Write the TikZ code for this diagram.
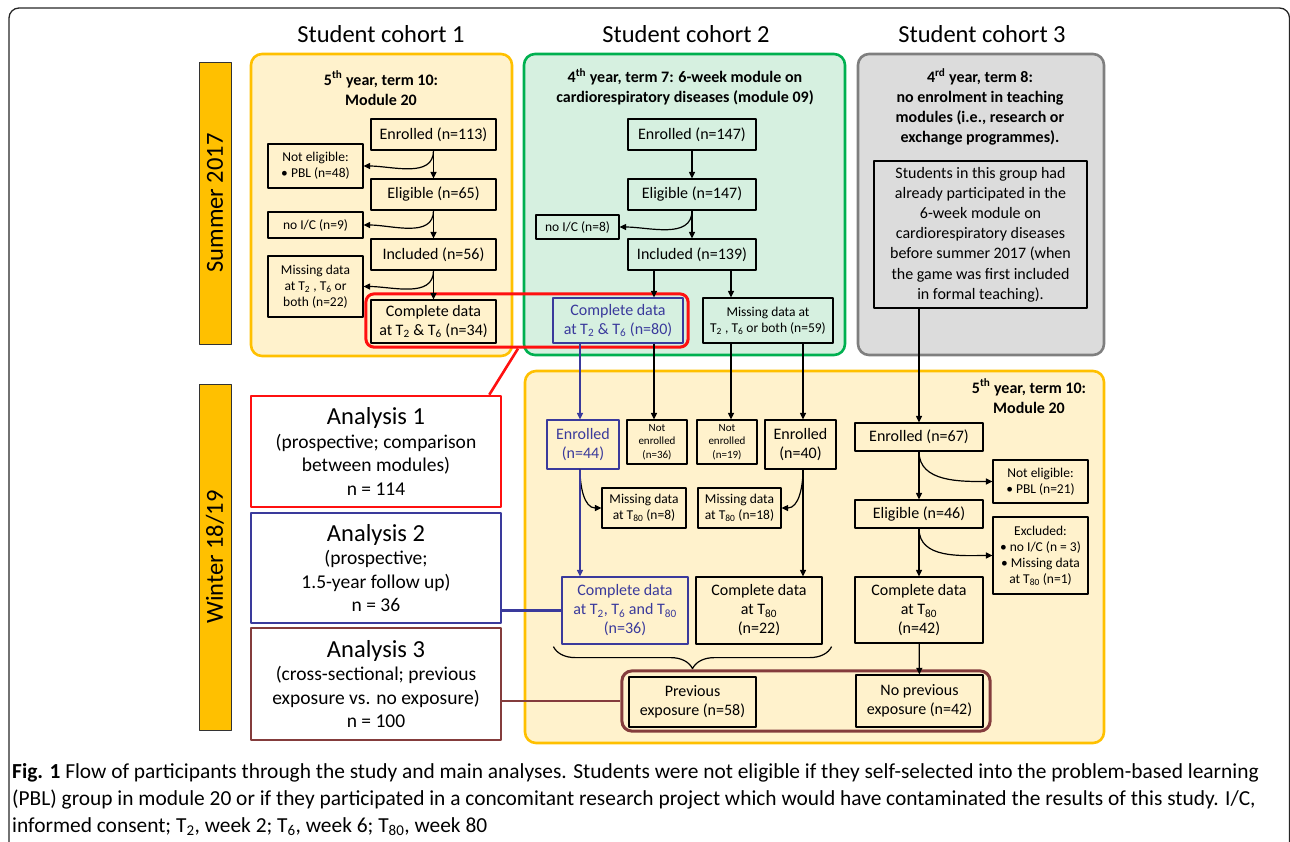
\documentclass[tikz,border=0pt]{standalone}
\usepackage{fontspec}
\setmainfont{Carlito}
\usetikzlibrary{arrows.meta,fit,decorations.pathreplacing,calc}
\definecolor{barorange}{HTML}{FFC000}
\definecolor{yelfill}{HTML}{FFF2CC}
\definecolor{grnline}{HTML}{00B050}
\definecolor{grnfill}{HTML}{D6F0E0}
\definecolor{gryline}{HTML}{7F7F7F}
\definecolor{gryfill}{HTML}{DCDCDC}
\definecolor{anblue}{HTML}{3A3A9C}
\definecolor{anbrown}{HTML}{843C3C}
\definecolor{anred}{HTML}{FF1010}
\begin{document}
\begin{tikzpicture}[x=1pt, y=-1pt, line join=round, >={Triangle[length=6.5pt,width=6pt]},
  box/.style={draw, line width=1.2pt, align=center, inner sep=0pt, font=\fontsize{16}{19}\selectfont},
  sbox/.style={box, font=\fontsize{13.5}{16}\selectfont},
  tbox/.style={box, font=\fontsize{11}{13.5}\selectfont},
  bluebox/.style={box, draw=anblue, text=anblue},
  region/.style={line width=2.6pt, rounded corners=11pt},
  head/.style={font=\fontsize{24.5}{29}\selectfont},
  title/.style={align=center, font=\bfseries\fontsize{16}{20}\selectfont},
  bar/.style={draw=black!80, line width=1pt, fill=barorange, inner sep=0pt, font=\fontsize{24.5}{29}\selectfont},
  ana/.style={draw, fill=white, line width=2.6pt, align=center, inner sep=0pt, minimum width=250pt, font=\fontsize{19.5}{23.5}\selectfont},
  big/.style={font=\fontsize{24.5}{29}\selectfont}]
\useasboundingbox (0,0) rectangle (1290,841);
\draw[line width=1.3pt, black!85, rounded corners=10pt] (9,8) rectangle (1289.5,852);

\foreach \i/\x in {1/381,2/686,3/982}
  \node[head] (hd\i) at (\x,34) {Student cohort \i};

\draw[region, draw=barorange, fill=yelfill] (251,54) rectangle (512,356);
\draw[region, draw=grnline, fill=grnfill] (524,54) rectangle (845,355);
\draw[region, draw=gryline, fill=gryfill] (858,54) rectangle (1104,355);
\draw[region, draw=barorange, fill=yelfill] (525,371) rectangle (1104,743);

\node[bar, rotate=90, minimum width=282pt, minimum height=32pt] (sumbar) at (215,203) {Summer 2017};
\node[bar, rotate=90, minimum width=346pt, minimum height=32pt] (winbar) at (215,557) {Winter 18/19};

% cohort 1
\node[title] (tiA) at (381,88) {5\textsuperscript{th} year, term 10:\\Module 20};
\node[box, minimum width=125pt, minimum height=31pt] (enrA) at (433.5,134.5) {Enrolled (n=113)};
\node[sbox, minimum width=95pt, minimum height=44pt] (nelA) at (315.5,166) {Not eligible:\\• PBL (n=48)};
\node[box, minimum width=125pt, minimum height=31pt] (eliA) at (433.5,194.5) {Eligible (n=65)};
\node[sbox, minimum width=95pt, minimum height=26pt] (nicA) at (315.5,225) {no I/C (n=9)};
\node[box, minimum width=125pt, minimum height=31pt] (incA) at (433.5,254.5) {Included (n=56)};
\node[sbox, minimum width=95pt, minimum height=61pt] (misA) at (315.5,286.5) {Missing data\\at T\textsubscript{2} , T\textsubscript{6} or\\both (n=22)};
\node[box, minimum width=125pt, minimum height=43pt] (comA) at (433.5,321.5) {Complete data\\at T\textsubscript{2} \& T\textsubscript{6} (n=34)};

% cohort 2
\node[title] (tiB) at (685,87) {4\textsuperscript{th} year, term 7: 6-week module on\\cardiorespiratory diseases (module 09)};
\node[box, minimum width=128pt, minimum height=31pt] (enrB) at (692,134.5) {Enrolled (n=147)};
\node[box, minimum width=128pt, minimum height=31pt] (eliB) at (692,194.5) {Eligible (n=147)};
\node[sbox, minimum width=83pt, minimum height=24pt] (nicB) at (577.5,227) {no I/C (n=8)};
\node[box, minimum width=128pt, minimum height=31pt] (incB) at (692,254.5) {Included (n=139)};
\node[bluebox, minimum width=130pt, minimum height=45pt] (comB) at (618,320.5) {Complete data\\at T\textsubscript{2} \& T\textsubscript{6} (n=80)};
\node[sbox, minimum width=130pt, minimum height=45pt] (misB) at (768,320.5) {Missing data at\\T\textsubscript{2} , T\textsubscript{6} or both (n=59)};

% cohort 3
\node[title] (tiC) at (980,107) {4\textsuperscript{rd} year, term 8:\\no enrolment in teaching\\modules (i.e., research or\\exchange programmes).};
\node[box, minimum width=213pt, minimum height=147pt, font=\fontsize{16}{20.2}\selectfont] (stuC) at (980.5,234.5) {Students in this group had\\already participated in the\\6-week module on\\cardiorespiratory diseases\\before summer 2017 (when\\the game was first included\\in formal teaching).};

% winter 18/19
\node[title] (tiD) at (1029,396) {5\textsuperscript{th} year, term 10:\\Module 20};
\node[bluebox, minimum width=72pt, minimum height=49pt] (enrD) at (583,444.5) {Enrolled\\(n=44)};
\node[tbox, minimum width=60pt, minimum height=44pt] (nenD) at (657,442) {Not\\enrolled\\(n=36)};
\node[tbox, minimum width=60pt, minimum height=44pt] (nenE) at (727,442) {Not\\enrolled\\(n=19)};
\node[box, minimum width=71pt, minimum height=49pt] (enrE) at (800.5,444.5) {Enrolled\\(n=40)};
\node[sbox, minimum width=84pt, minimum height=40pt] (misD) at (644,508) {Missing data\\at T\textsubscript{80} (n=8)};
\node[sbox, minimum width=83pt, minimum height=40pt] (misE) at (739.5,508) {Missing data\\at T\textsubscript{80} (n=18)};
\node[bluebox, minimum width=126pt, minimum height=67pt] (comD) at (625,610.5) {Complete data\\at T\textsubscript{2}, T\textsubscript{6} and T\textsubscript{80}\\(n=36)};
\node[box, minimum width=126pt, minimum height=67pt] (comE) at (759,610.5) {Complete data\\at T\textsubscript{80}\\(n=22)};
\node[box, minimum width=127pt, minimum height=50pt] (preD) at (692.5,702) {Previous\\exposure (n=58)};

\node[box, minimum width=128pt, minimum height=28pt] (enrF) at (919,437) {Enrolled (n=67)};
\node[sbox, minimum width=95pt, minimum height=43pt] (nelF) at (1040.5,481.5) {Not eligible:\\• PBL (n=21)};
\node[box, minimum width=128pt, minimum height=28pt] (eliF) at (919,514) {Eligible (n=46)};
\node[sbox, minimum width=95pt, minimum height=77pt] (excF) at (1040.5,555.5) {Excluded:\\• no I/C (n = 3)\\• Missing data\\at T\textsubscript{80} (n=1)};
\node[box, minimum width=128pt, minimum height=66pt] (comF) at (919,610) {Complete data\\at T\textsubscript{80}\\(n=42)};
\node[box, minimum width=127pt, minimum height=52pt] (npeF) at (919.5,701) {No previous\\exposure (n=42)};

% analyses
\node[ana, draw=anred, minimum height=111pt] (anaA) at (376,451.5) {{\fontsize{24.5}{29}\selectfont Analysis 1}\\(prospective; comparison\\between modules)\\n = 114};
\node[ana, draw=anblue, minimum height=110pt] (anaB) at (376,568) {{\fontsize{24.5}{29}\selectfont Analysis 2}\\(prospective;\\1.5-year follow up)\\n = 36};
\node[ana, draw=anbrown, minimum height=112pt] (anaC) at (376,684) {{\fontsize{24.5}{29}\selectfont Analysis 3}\\(cross-sectional; previous\\exposure vs. no exposure)\\n = 100};

\node[fit=(comA)(comB), draw=anred, line width=3pt, rounded corners=8pt, inner xsep=4.5pt, inner ysep=3.5pt] (grpA) {};
\node[fit=(preD)(npeF), draw=anbrown, line width=3pt, rounded corners=10pt, inner xsep=6.5pt, inner ysep=3.5pt] (grpC) {};

% arrows
\coordinate (xb1) at (654,0);
\coordinate (xb2) at (731,0);
\coordinate (xb3) at (803,0);
\coordinate (xd) at (580,0);
\begin{scope}[line width=1.2pt]
\draw[->] (enrA) -- (eliA);
\draw[->] (enrA.south) to[out=-90,in=0] (nelA.east);
\draw[->] (eliA) -- (incA);
\draw[->] (eliA.south) to[out=-90,in=0] (nicA.east);
\draw[->] (incA) -- (comA);
\draw[->] (incA.south) to[out=-90,in=0] (misA.east);

\draw[->] (enrB) -- (eliB);
\draw[->] (eliB) -- (incB);
\draw[->] (eliB.south) to[out=-90,in=0] (nicB.east);
\draw[->] (incB.south -| xb1) -- (comB.north -| xb1);
\draw[->] (incB.south -| xb2) -- (misB.north -| xb2);

\draw[->, anblue] (comB.south -| xd) -- (enrD.north -| xd);
\draw[->] (comB.south -| xb1) -- (nenD.north -| xb1);
\draw[->] (misB.south -| xb2) -- (nenE.north -| xb2);
\draw[->] (misB.south -| xb3) -- (enrE.north -| xb3);
\draw[->] (enrD.south -| xd) to[out=-90,in=180] (misD.west);
\draw[->, anblue] (enrD.south -| xd) -- (comD.north -| xd);
\draw[->] (enrE.south -| xb3) to[out=-90,in=0] (misE.east);
\draw[->] (enrE.south -| xb3) -- (comE.north -| xb3);

\draw[->] (stuC.south -| enrF.north) -- (enrF.north);
\draw[->] (enrF) -- (eliF);
\draw[->] (enrF.south) to[out=-90,in=180] (nelF.west);
\draw[->] (eliF) -- (comF);
\draw[->] (eliF.south) to[out=-90,in=180] (excF.west);
\draw[->] (comF) -- (npeF);

\draw[decorate, decoration={brace, mirror, amplitude=22pt}] ($(comD.south west)+(-8,2)$) -- ($(comE.south east)+(9,2)$);
\end{scope}

\draw[anred, line width=2.6pt] ([xshift=-9pt]grpA.south) -- ([xshift=-13pt]anaA.north east);
\draw[anblue, line width=2.6pt] (comD.west) -- (comD.west -| anaB.east);
\draw[anbrown, line width=2.6pt] (grpC.west) -- (grpC.west -| anaC.east);

\node[anchor=north west, inner sep=0pt, align=left, font=\fontsize{21.4}{27.3}\selectfont] (cap) at (12,763) {\textbf{Fig. 1} Flow of participants through the study and main analyses. Students were not eligible if they self-selected into the problem-based learning\\(PBL) group in module 20 or if they participated in a concomitant research project which would have contaminated the results of this study. I/C,\\informed consent; T\textsubscript{2}, week 2; T\textsubscript{6}, week 6; T\textsubscript{80}, week 80};
\end{tikzpicture}
\end{document}
